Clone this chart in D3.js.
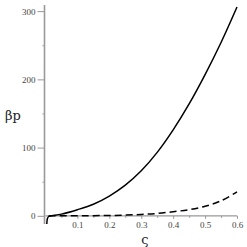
<!DOCTYPE html>
<html>
<head>
<meta charset="utf-8">
<script src="https://cdn.jsdelivr.net/npm/d3@7"></script>
<style>
  body { margin: 0; background: #fff; }
  svg { display: block; }
</style>
</head>
<body>
<svg width="247" height="247"></svg>
<script>
// values
var zeta_solid = [0.004, 0.006, 0.01, 0.02, 0.05, 0.1, 0.15, 0.2, 0.25, 0.3, 0.35, 0.4, 0.45, 0.5, 0.55, 0.6];
var bp_solid   = [-12, -4, -1, 0, 2.5, 9, 17, 29, 45, 66, 93, 126, 164, 207, 254, 306];

var zeta_dash = [0.01, 0.1, 0.15, 0.2, 0.25, 0.3, 0.35, 0.4, 0.45, 0.5, 0.55, 0.6];
var bp_dash   = [0, 0, 0.2, 0.5, 1, 2, 3.5, 6, 9, 14, 22, 35];

var x_major = [0.1, 0.2, 0.3, 0.4, 0.5, 0.6];
var x_minor = [0.05, 0.15, 0.25, 0.35, 0.45, 0.55];
var y_major = [0, 100, 200, 300];
var y_minor = [50, 150, 250];

var svg = d3.select("svg");

var x = d3.scaleLinear().domain([0, 0.6]).range([45.5, 237]);
var y = d3.scaleLinear().domain([-12, 309]).range([224, 5]);

var axisColor = "#999";
var labelColor = "#444";

// x axis
var gx = svg.append("g").attr("transform", "translate(0," + y(0) + ")");
gx.call(d3.axisBottom(x).tickValues(x_major).tickSize(3).tickPadding(3)
  .tickFormat(d3.format(".1f")));
gx.append("g").call(d3.axisBottom(x).tickValues(x_minor).tickSize(2).tickFormat(""));
gx.selectAll(".domain").remove();
gx.append("line").attr("x1", x(0)).attr("x2", x(0.6))
  .attr("stroke", axisColor).attr("stroke-width", 1.2);
gx.selectAll(".tick line").attr("stroke", axisColor);

// y axis
var gy = svg.append("g").attr("transform", "translate(" + (x(0) - 1) + ",0)");
gy.call(d3.axisLeft(y).tickValues(y_major).tickSize(7).tickPadding(2));
gy.append("g").call(d3.axisLeft(y).tickValues(y_minor).tickSize(2).tickFormat(""));
gy.selectAll(".domain").remove();
gy.append("line").attr("y1", y(-12)).attr("y2", y(309))
  .attr("stroke", axisColor).attr("stroke-width", 1.6);
gy.selectAll(".tick line").attr("stroke", axisColor);

svg.selectAll(".tick text")
  .attr("fill", labelColor)
  .style("font-family", "'Liberation Serif', serif")
  .style("font-size", "9px");

var line = d3.line()
  .x(function(d) { return x(d[0]); })
  .y(function(d) { return y(d[1]); })
  .curve(d3.curveCatmullRom.alpha(0.5));

svg.append("path")
  .datum(d3.zip(zeta_dash, bp_dash))
  .attr("d", line)
  .attr("fill", "none")
  .attr("stroke", "#000")
  .attr("stroke-width", 1.5)
  .attr("stroke-dasharray", "7,4");

svg.append("path")
  .datum(d3.zip(zeta_solid, bp_solid))
  .attr("d", line)
  .attr("fill", "none")
  .attr("stroke", "#000")
  .attr("stroke-width", 1.5);

// axis titles
svg.append("text")
  .attr("x", 13).attr("y", 120)
  .attr("text-anchor", "middle")
  .style("font-family", "'DejaVu Serif', serif")
  .style("font-size", "13px")
  .attr("fill", "#222")
  .text("βp");

svg.append("text")
  .attr("x", 145).attr("y", 244)
  .attr("text-anchor", "middle")
  .style("font-family", "'DejaVu Serif', serif")
  .style("font-size", "13px")
  .attr("fill", "#222")
  .text("ς");
</script>
</body>
</html>
